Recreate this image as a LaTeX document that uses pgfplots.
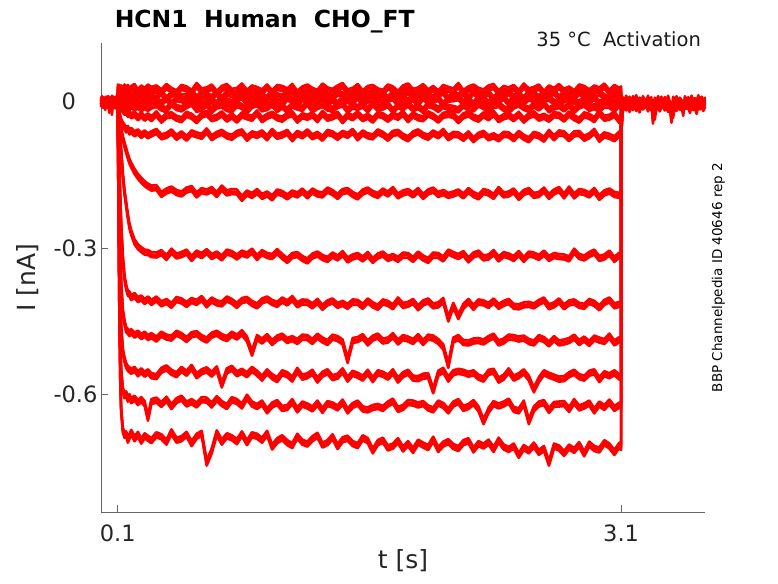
\documentclass[border=0pt]{standalone}
\usepackage{fontspec}
\setmainfont{DejaVu Sans}
\usepackage{pgfplots}
\pgfplotsset{compat=1.18}
\usepackage{pgfplotstable}
\pgfplotstableread{
t z1 z2 z3 z4 z5 a b c d e f g h
0.1 0.002 -0.003 0.001 -0.002 0.003 -0.001 0.000 0.002 -0.003 0.001 -0.002 0.000 0.002
0.1005 0.030 0.024 0.018 0.012 0.006 0.000 -0.005 -0.010 -0.015 -0.020 -0.025 -0.030 -0.035
0.105 0.027 0.020 0.014 0.007 0.000 -0.015 -0.030 -0.040 -0.070 -0.110 -0.150 -0.200 -0.250
0.11 0.029 0.016 0.010 0.004 -0.005 -0.025 -0.040 -0.060 -0.140 -0.220 -0.300 -0.380 -0.450
0.115 0.024 0.018 0.008 0.001 -0.010 -0.033 -0.050 -0.080 -0.200 -0.310 -0.400 -0.490 -0.570
0.12 0.028 0.013 0.006 -0.002 -0.013 -0.040 -0.058 -0.100 -0.250 -0.370 -0.460 -0.550 -0.630
0.13 0.022 0.016 0.002 -0.006 -0.017 -0.047 -0.075 -0.150 -0.320 -0.430 -0.510 -0.590 -0.672
0.14 0.030 0.010 0.007 -0.004 -0.022 -0.052 -0.088 -0.185 -0.360 -0.452 -0.528 -0.602 -0.683
0.15 0.024 0.017 -0.001 -0.010 -0.020 -0.058 -0.100 -0.210 -0.380 -0.467 -0.540 -0.598 -0.680
0.16 0.029 0.011 0.005 -0.007 -0.026 -0.055 -0.112 -0.235 -0.392 -0.470 -0.546 -0.609 -0.693
0.17 0.021 0.015 0.000 -0.012 -0.024 -0.062 -0.122 -0.255 -0.394 -0.475 -0.549 -0.604 -0.685
0.18 0.027 0.009 0.006 -0.008 -0.029 -0.059 -0.130 -0.268 -0.401 -0.471 -0.552 -0.612 -0.677
0.20 0.031 0.016 -0.002 -0.013 -0.026 -0.066 -0.143 -0.287 -0.397 -0.478 -0.548 -0.607 -0.690
0.22 0.020 0.012 0.005 -0.009 -0.033 -0.062 -0.153 -0.297 -0.405 -0.474 -0.557 -0.616 -0.681
0.24 0.028 0.017 0.001 -0.015 -0.027 -0.069 -0.161 -0.303 -0.402 -0.481 -0.551 -0.610 -0.695
0.26 0.023 0.010 0.007 -0.010 -0.034 -0.064 -0.168 -0.308 -0.409 -0.476 -0.558 -0.618 -0.684
0.28 0.030 0.015 -0.003 -0.014 -0.029 -0.070 -0.173 -0.309 -0.404 -0.483 -0.553 -0.648 -0.689
0.30 0.025 0.011 0.004 -0.009 -0.035 -0.066 -0.177 -0.313 -0.411 -0.479 -0.561 -0.614 -0.694
0.33 0.028 0.012 0.002 -0.006 -0.025 -0.061 -0.176 -0.314 -0.404 -0.486 -0.563 -0.611 -0.682
0.36 0.020 0.018 -0.003 -0.013 -0.038 -0.072 -0.190 -0.309 -0.414 -0.476 -0.550 -0.620 -0.686
0.39 0.031 0.005 0.007 -0.017 -0.029 -0.069 -0.183 -0.319 -0.409 -0.482 -0.545 -0.609 -0.697
0.42 0.023 0.015 -0.005 -0.004 -0.027 -0.062 -0.179 -0.306 -0.417 -0.484 -0.554 -0.624 -0.676
0.45 0.018 0.019 0.006 -0.012 -0.034 -0.073 -0.186 -0.316 -0.405 -0.474 -0.559 -0.612 -0.693
0.48 0.029 0.009 0.004 -0.015 -0.037 -0.066 -0.189 -0.313 -0.408 -0.479 -0.548 -0.607 -0.690
0.51 0.026 0.011 -0.001 -0.008 -0.026 -0.075 -0.181 -0.308 -0.415 -0.487 -0.556 -0.619 -0.681
0.54 0.019 0.020 0.008 -0.003 -0.030 -0.064 -0.178 -0.321 -0.407 -0.477 -0.544 -0.614 -0.700
0.57 0.033 0.007 -0.006 -0.016 -0.039 -0.068 -0.191 -0.310 -0.411 -0.475 -0.561 -0.621 -0.685
0.60 0.022 0.016 0.003 -0.013 -0.028 -0.071 -0.182 -0.315 -0.403 -0.483 -0.553 -0.610 -0.679
0.63 0.024 0.013 0.007 -0.005 -0.024 -0.060 -0.185 -0.307 -0.416 -0.488 -0.549 -0.611 -0.740
0.66 0.030 0.008 0.000 -0.018 -0.035 -0.074 -0.180 -0.317 -0.406 -0.478 -0.558 -0.621 -0.715
0.69 0.017 0.018 -0.004 -0.009 -0.032 -0.067 -0.190 -0.312 -0.412 -0.474 -0.547 -0.608 -0.678
0.72 0.027 0.006 0.009 -0.007 -0.025 -0.063 -0.177 -0.320 -0.414 -0.481 -0.580 -0.618 -0.697
0.75 0.031 0.017 0.001 -0.014 -0.036 -0.070 -0.187 -0.308 -0.404 -0.485 -0.551 -0.624 -0.684
0.78 0.021 0.015 -0.002 -0.017 -0.029 -0.073 -0.184 -0.311 -0.409 -0.476 -0.546 -0.610 -0.688
0.81 0.023 0.010 0.005 -0.006 -0.038 -0.065 -0.185 -0.318 -0.417 -0.482 -0.557 -0.614 -0.696
0.84 0.032 0.019 0.010 -0.010 -0.027 -0.062 -0.198 -0.310 -0.407 -0.473 -0.552 -0.623 -0.680
0.87 0.019 0.005 -0.003 -0.019 -0.031 -0.075 -0.187 -0.314 -0.405 -0.486 -0.559 -0.605 -0.698
0.90 0.028 0.014 0.000 -0.008 -0.034 -0.066 -0.192 -0.306 -0.413 -0.515 -0.548 -0.619 -0.682
0.93 0.025 0.018 0.008 -0.004 -0.023 -0.069 -0.184 -0.319 -0.418 -0.483 -0.556 -0.624 -0.685
0.96 0.020 0.011 -0.005 -0.015 -0.037 -0.064 -0.194 -0.309 -0.408 -0.490 -0.566 -0.617 -0.693
0.99 0.030 0.007 0.004 -0.012 -0.030 -0.074 -0.189 -0.315 -0.404 -0.481 -0.553 -0.633 -0.679
1.02 0.018 0.020 0.006 -0.005 -0.026 -0.061 -0.197 -0.317 -0.411 -0.493 -0.563 -0.621 -0.707
1.05 0.029 0.012 -0.001 -0.016 -0.033 -0.071 -0.185 -0.307 -0.415 -0.484 -0.569 -0.616 -0.694
1.08 0.027 0.009 -0.004 -0.009 -0.036 -0.068 -0.188 -0.317 -0.406 -0.480 -0.555 -0.628 -0.688
1.11 0.022 0.016 0.007 -0.018 -0.028 -0.063 -0.195 -0.325 -0.412 -0.489 -0.559 -0.626 -0.698
1.14 0.031 0.021 0.003 -0.007 -0.025 -0.076 -0.187 -0.315 -0.403 -0.485 -0.568 -0.614 -0.704
1.17 0.017 0.008 -0.006 -0.011 -0.038 -0.065 -0.191 -0.313 -0.416 -0.491 -0.550 -0.631 -0.685
1.20 0.026 0.011 0.005 -0.014 -0.029 -0.070 -0.183 -0.321 -0.410 -0.482 -0.564 -0.619 -0.697
1.23 0.030 0.019 0.009 -0.003 -0.032 -0.062 -0.193 -0.326 -0.411 -0.483 -0.561 -0.623 -0.701
1.26 0.023 0.006 -0.002 -0.017 -0.027 -0.072 -0.183 -0.316 -0.418 -0.491 -0.554 -0.629 -0.690
1.29 0.019 0.015 0.001 -0.010 -0.037 -0.067 -0.189 -0.312 -0.409 -0.480 -0.570 -0.617 -0.683
1.32 0.032 0.017 0.008 -0.006 -0.024 -0.075 -0.191 -0.319 -0.421 -0.488 -0.558 -0.632 -0.703
1.35 0.024 0.010 -0.003 -0.013 -0.034 -0.063 -0.181 -0.323 -0.412 -0.493 -0.553 -0.618 -0.698
1.38 0.021 0.007 0.004 -0.016 -0.031 -0.066 -0.186 -0.314 -0.408 -0.482 -0.565 -0.621 -0.686
1.41 0.028 0.018 -0.005 -0.008 -0.026 -0.073 -0.194 -0.320 -0.417 -0.485 -0.562 -0.627 -0.706
1.44 0.033 0.014 0.006 -0.005 -0.039 -0.065 -0.184 -0.311 -0.413 -0.492 -0.551 -0.615 -0.692
1.47 0.020 0.005 0.002 -0.018 -0.028 -0.069 -0.182 -0.324 -0.419 -0.530 -0.568 -0.633 -0.689
1.50 0.023 0.016 -0.001 -0.009 -0.033 -0.061 -0.190 -0.318 -0.410 -0.489 -0.556 -0.622 -0.700
1.53 0.031 0.020 0.010 -0.012 -0.025 -0.074 -0.195 -0.315 -0.411 -0.487 -0.560 -0.617 -0.704
1.56 0.018 0.009 -0.004 -0.007 -0.035 -0.064 -0.185 -0.322 -0.419 -0.481 -0.566 -0.629 -0.688
1.59 0.027 0.012 0.003 -0.017 -0.030 -0.070 -0.181 -0.313 -0.408 -0.494 -0.554 -0.631 -0.694
1.62 0.029 0.019 0.007 -0.004 -0.038 -0.072 -0.188 -0.325 -0.416 -0.484 -0.569 -0.626 -0.715
1.65 0.022 0.008 0.000 -0.014 -0.026 -0.062 -0.192 -0.316 -0.421 -0.480 -0.555 -0.624 -0.698
1.68 0.019 0.015 -0.003 -0.011 -0.029 -0.067 -0.183 -0.312 -0.410 -0.490 -0.558 -0.628 -0.693
1.71 0.030 0.006 0.005 -0.006 -0.036 -0.075 -0.189 -0.321 -0.413 -0.488 -0.564 -0.619 -0.709
1.74 0.026 0.017 0.008 -0.019 -0.028 -0.065 -0.180 -0.317 -0.420 -0.479 -0.553 -0.613 -0.705
1.77 0.017 0.013 -0.005 -0.008 -0.032 -0.063 -0.193 -0.323 -0.406 -0.492 -0.570 -0.630 -0.694
1.80 0.028 0.010 0.004 -0.013 -0.024 -0.071 -0.187 -0.314 -0.417 -0.483 -0.559 -0.626 -0.711
1.83 0.032 0.021 0.001 -0.005 -0.037 -0.076 -0.184 -0.315 -0.415 -0.486 -0.554 -0.616 -0.700
1.86 0.021 0.007 0.006 -0.015 -0.027 -0.066 -0.191 -0.323 -0.409 -0.491 -0.566 -0.617 -0.714
1.89 0.024 0.014 -0.004 -0.010 -0.033 -0.062 -0.182 -0.312 -0.422 -0.481 -0.567 -0.621 -0.697
1.92 0.031 0.018 0.009 -0.018 -0.035 -0.069 -0.194 -0.320 -0.412 -0.493 -0.562 -0.618 -0.703
1.95 0.020 0.011 -0.001 -0.006 -0.025 -0.073 -0.185 -0.325 -0.408 -0.482 -0.561 -0.627 -0.708
1.98 0.027 0.008 0.002 -0.009 -0.030 -0.064 -0.181 -0.314 -0.418 -0.484 -0.592 -0.631 -0.691
2.01 0.018 0.016 0.007 -0.016 -0.038 -0.070 -0.190 -0.315 -0.416 -0.491 -0.556 -0.617 -0.712
2.04 0.029 0.019 -0.006 -0.008 -0.028 -0.061 -0.186 -0.322 -0.407 -0.502 -0.550 -0.622 -0.701
2.07 0.025 0.006 0.005 -0.012 -0.026 -0.074 -0.192 -0.308 -0.445 -0.540 -0.568 -0.633 -0.696
2.10 0.022 0.013 0.006 -0.014 -0.028 -0.067 -0.189 -0.313 -0.417 -0.488 -0.555 -0.619 -0.706
2.13 0.033 0.012 0.008 -0.017 -0.039 -0.068 -0.185 -0.317 -0.440 -0.483 -0.552 -0.614 -0.710
2.16 0.019 0.017 -0.002 -0.007 -0.029 -0.075 -0.193 -0.311 -0.419 -0.493 -0.554 -0.628 -0.698
2.19 0.026 0.007 0.003 -0.013 -0.025 -0.066 -0.182 -0.324 -0.409 -0.494 -0.558 -0.624 -0.694
2.22 0.030 0.020 -0.005 -0.015 -0.032 -0.078 -0.190 -0.314 -0.421 -0.490 -0.555 -0.616 -0.713
2.25 0.023 0.010 0.007 -0.005 -0.036 -0.069 -0.195 -0.310 -0.410 -0.489 -0.564 -0.629 -0.700
2.28 0.020 0.013 0.004 -0.010 -0.027 -0.065 -0.184 -0.320 -0.412 -0.492 -0.568 -0.655 -0.705
2.31 0.028 0.018 -0.003 -0.018 -0.033 -0.074 -0.187 -0.318 -0.417 -0.485 -0.554 -0.632 -0.697
2.34 0.031 0.005 0.005 -0.008 -0.024 -0.070 -0.194 -0.309 -0.408 -0.480 -0.552 -0.618 -0.712
2.37 0.018 0.016 0.001 -0.006 -0.037 -0.076 -0.180 -0.322 -0.419 -0.494 -0.570 -0.623 -0.693
2.40 0.027 0.011 0.009 -0.014 -0.031 -0.067 -0.191 -0.313 -0.413 -0.490 -0.564 -0.619 -0.707
2.43 0.024 0.019 -0.004 -0.019 -0.028 -0.068 -0.189 -0.316 -0.409 -0.482 -0.551 -0.613 -0.712
2.46 0.029 0.009 0.006 -0.009 -0.035 -0.076 -0.183 -0.321 -0.419 -0.483 -0.566 -0.630 -0.705
2.49 0.019 0.014 0.000 -0.005 -0.026 -0.065 -0.196 -0.311 -0.420 -0.486 -0.561 -0.633 -0.724
2.52 0.032 0.006 -0.002 -0.012 -0.038 -0.073 -0.186 -0.323 -0.416 -0.484 -0.553 -0.617 -0.708
2.55 0.022 0.018 0.008 -0.016 -0.029 -0.078 -0.182 -0.312 -0.415 -0.491 -0.566 -0.655 -0.715
2.58 0.025 0.015 0.003 -0.007 -0.025 -0.067 -0.192 -0.314 -0.418 -0.494 -0.590 -0.629 -0.703
2.61 0.030 0.008 -0.005 -0.013 -0.034 -0.070 -0.190 -0.319 -0.411 -0.483 -0.569 -0.619 -0.718
2.64 0.017 0.016 0.005 -0.004 -0.030 -0.077 -0.181 -0.310 -0.406 -0.487 -0.555 -0.616 -0.710
2.67 0.028 0.012 0.007 -0.017 -0.036 -0.063 -0.194 -0.321 -0.420 -0.496 -0.560 -0.632 -0.740
2.70 0.023 0.020 -0.001 -0.011 -0.027 -0.074 -0.185 -0.315 -0.416 -0.485 -0.564 -0.620 -0.705
2.73 0.031 0.007 -0.006 -0.008 -0.028 -0.064 -0.180 -0.317 -0.408 -0.494 -0.568 -0.619 -0.709
2.76 0.021 0.017 0.004 -0.015 -0.036 -0.066 -0.193 -0.318 -0.420 -0.492 -0.567 -0.618 -0.720
2.79 0.026 0.011 0.008 -0.006 -0.025 -0.076 -0.179 -0.322 -0.412 -0.489 -0.559 -0.630 -0.707
2.82 0.018 0.009 0.001 -0.018 -0.033 -0.066 -0.193 -0.306 -0.410 -0.482 -0.554 -0.614 -0.714
2.85 0.030 0.019 -0.003 -0.009 -0.038 -0.065 -0.184 -0.317 -0.417 -0.493 -0.563 -0.627 -0.702
2.88 0.027 0.014 0.006 -0.005 -0.027 -0.075 -0.186 -0.320 -0.419 -0.486 -0.566 -0.623 -0.721
2.91 0.020 0.006 0.000 -0.014 -0.030 -0.070 -0.191 -0.313 -0.409 -0.495 -0.556 -0.617 -0.701
2.94 0.028 0.016 0.009 -0.010 -0.037 -0.061 -0.182 -0.308 -0.413 -0.484 -0.553 -0.633 -0.710
2.97 0.024 0.018 -0.004 -0.016 -0.023 -0.077 -0.196 -0.321 -0.422 -0.488 -0.569 -0.619 -0.713
3.00 0.032 0.010 0.002 -0.007 -0.034 -0.068 -0.187 -0.318 -0.411 -0.491 -0.557 -0.626 -0.698
3.03 0.019 0.005 0.005 -0.008 -0.032 -0.071 -0.183 -0.310 -0.406 -0.480 -0.561 -0.615 -0.705
3.06 0.029 0.015 -0.002 -0.016 -0.026 -0.076 -0.190 -0.323 -0.418 -0.494 -0.555 -0.628 -0.718
3.09 0.023 0.019 0.007 -0.005 -0.039 -0.066 -0.192 -0.314 -0.415 -0.487 -0.564 -0.621 -0.703
3.10 0.026 0.012 0.003 -0.012 -0.031 -0.072 -0.186 -0.317 -0.414 -0.488 -0.560 -0.624 -0.708
3.1005 0.008 0.004 0.000 -0.004 -0.008 -0.012 -0.018 -0.022 -0.025 -0.028 -0.030 -0.032 -0.035
3.11 -0.002 0.003 -0.006 0.001 -0.009 -0.004 -0.011 -0.007 -0.013 -0.009 -0.015 -0.012 -0.016
}\traces
\pgfplotstableread{
t b1 b2
0.000 0.003 -0.004
0.005 -0.006 0.006
0.010 0.005 -0.007
0.015 -0.002 0.003
0.020 -0.009 0.001
0.025 0.004 -0.012
0.030 0.001 0.005
0.035 -0.007 0.002
0.040 0.006 -0.008
0.045 -0.004 0.006
0.050 -0.018 0.000
0.055 0.003 -0.006
0.060 -0.005 0.004
0.065 0.007 -0.022
0.070 -0.003 0.006
0.075 0.002 -0.004
0.080 -0.008 0.003
0.085 0.005 -0.009
0.090 -0.002 0.005
0.095 0.004 -0.003
0.100 0.000 0.000
}\base
\pgfplotstableread{
t t1 t2
3.10 -0.010 -0.020
3.105 -0.004 -0.045
3.11 0.004 -0.015
3.12 -0.006 -0.004
3.13 0.007 -0.013
3.14 -0.003 -0.002
3.15 0.005 -0.016
3.16 -0.008 -0.005
3.17 0.006 -0.012
3.18 -0.002 -0.001
3.19 0.008 -0.014
3.20 -0.005 -0.006
3.21 0.003 -0.017
3.22 -0.007 -0.003
3.23 0.006 -0.011
3.24 0.000 -0.007
3.25 -0.006 -0.002
3.26 0.007 -0.015
3.27 -0.004 -0.006
3.28 0.004 -0.013
3.29 -0.040 -0.003
3.30 0.003 -0.032
3.31 -0.006 -0.010
3.32 0.006 -0.004
3.33 -0.003 -0.015
3.34 0.005 -0.007
3.35 -0.008 -0.002
3.36 0.004 -0.013
3.37 -0.002 -0.006
3.38 0.007 -0.016
3.39 -0.006 -0.004
3.40 -0.038 -0.011
3.41 0.005 -0.028
3.42 -0.004 -0.005
3.43 0.006 -0.014
3.44 -0.007 -0.003
3.45 0.003 -0.012
3.46 -0.002 -0.007
3.47 -0.024 -0.015
3.48 0.006 -0.002
3.49 -0.005 -0.010
3.50 0.004 -0.006
3.51 -0.008 -0.018
3.52 0.007 -0.004
3.53 -0.003 -0.012
3.54 0.002 -0.008
3.55 -0.006 -0.020
3.56 0.008 -0.003
3.57 -0.004 -0.011
3.58 0.005 -0.005
3.59 -0.007 -0.014
3.60 0.003 -0.006
}\tail
\tikzset{tr/.style={red, line width=2.6pt, line join=round, line cap=round, mark=none}}
\begin{document}
\begin{tikzpicture}
\path[use as bounding box] (-101pt,-71pt) rectangle (677pt,512pt);
\begin{axis}[
  scale only axis, width=604pt, height=469pt,
  xmin=0, xmax=3.6, ymin=-0.84, ymax=0.12,
  axis lines=left, axis line style={-, draw=black!60, line width=0.7pt},
  xtick={0.1,3.1}, xticklabels={0.1,3.1},
  ytick={-0.6,-0.3,0}, yticklabels={-0.6,-0.3,0\phantom{.0}},
  tick align=inside, major tick length=7pt,
  tick style={draw=black!60, line width=0.7pt},
  ticklabel style={font=\fontsize{22.5}{27}\selectfont, text=black!85},
  xticklabel style={yshift=-9pt},
  xlabel={t [s]}, ylabel={I [nA]},
  label style={font=\fontsize{25}{30}\selectfont, text=black!85},
  xlabel style={at={(axis description cs:0.5,-0.1045)}, anchor=center},
  ylabel style={at={(axis description cs:-0.121,0.5)}, anchor=center},
  clip=false,
]
\pgfplotsinvokeforeach{b1,b2}{
  \addplot[tr] table[x=t,y=#1]{\base};
  \addplot[tr,yshift=2.5pt] table[x=t,y=#1]{\base};
  \addplot[tr,yshift=-2.5pt] table[x=t,y=#1]{\base};
}
\pgfplotsinvokeforeach{z1,z2,z3,z4,z5,a,b,c,d,e,f,g,h}{
  \addplot[tr] table[x=t,y=#1]{\traces};
  \addplot[tr,yshift=2.5pt] table[x=t,y=#1]{\traces};
  \addplot[tr,yshift=-2.5pt] table[x=t,y=#1]{\traces};
}
\pgfplotsinvokeforeach{t1,t2}{
  \addplot[tr] table[x=t,y=#1]{\tail};
  \addplot[tr,yshift=2.5pt] table[x=t,y=#1]{\tail};
  \addplot[tr,yshift=-2.5pt] table[x=t,y=#1]{\tail};
}
\node[anchor=base west, font=\bfseries\fontsize{23.5}{28}\selectfont] at (axis description cs:0.017,1.034) {HCN1\ \ Human\ \ CHO\_FT};
\node[anchor=base east, font=\fontsize{19.5}{24}\selectfont, text=black!90] at (axis description cs:0.999,0.9915) {35 °C\ \ Activation};
\node[rotate=90, anchor=center, font=\fontsize{13.5}{16}\selectfont] at (axis description cs:1.022,0.5) {BBP Channelpedia ID 40646 rep 2};
\end{axis}
\end{tikzpicture}
\end{document}
